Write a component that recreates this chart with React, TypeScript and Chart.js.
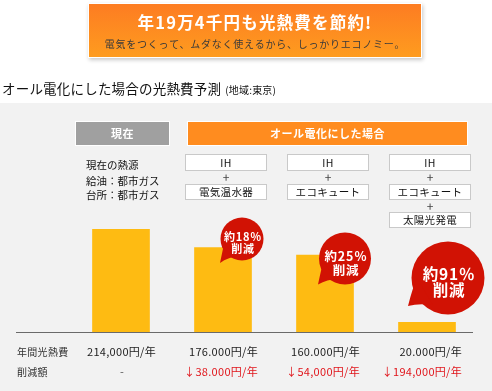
import React, { useEffect, useRef } from "react";
import { Chart, registerables } from "chart.js";

Chart.register(...registerables);

// ---- data ----
const categories = ["現在", "IH+電気温水器", "IH+エコキュート", "IH+エコキュート+太陽光発電"];
const annualCost = [214000, 176000, 160000, 20000];
const costLabels = ["214,000円/年", "176.000円/年", "160.000円/年", "20.000円/年"];
const savingLabels = ["-", "↓38.000円/年", "↓54,000円/年", "↓194,000円/年"];
const reductionRates = ["", "約18％", "約25％", "約91％"];
const equipment = [[], ["IH", "電気温水器"], ["IH", "エコキュート"], ["IH", "エコキュート", "太陽光発電"]];
const currentSource = ["現在の熱源", "給油：都市ガス", "台所：都市ガス"];
const bannerTitle = "年19万4千円も光熱費を節約!";
const bannerSub = "電気をつくって、ムダなく使えるから、しっかりエコノミー。";
const chartTitle = "オール電化にした場合の光熱費予測";
const chartRegion = "(地域:東京)";
const headerNow = "現在";
const headerAllElectric = "オール電化にした場合";
const rowLabels = ["年間光熱費", "削減額"];

const FONT = "'Noto Sans CJK JP', 'Noto Sans', sans-serif";

// bubble styles (radius, dx from bar center, center y, font size, line offsets)
const bubbleStyle = [
  null,
  { r: 21.5, dx: 19, cy: 239, fs: 11, l1: -2, l2: 10, tipDx: -22, tipDy: 24 },
  { r: 26, dx: 20, cy: 258.5, fs: 12.5, l1: -2, l2: 12, tipDx: -27, tipDy: 26 },
  { r: 36.5, dx: 21, cy: 278, fs: 15.5, l1: -4, l2: 12, tipDx: -40, tipDy: 28 },
];

const decorPlugin = {
  id: "decor",
  beforeDraw(chart: any) {
    const ctx: CanvasRenderingContext2D = chart.ctx;
    const W = chart.width;
    const H = chart.height;
    ctx.save();
    ctx.fillStyle = "#ffffff";
    ctx.fillRect(0, 0, W, H);
    ctx.fillStyle = "#f2f2f2";
    ctx.fillRect(0, 103, W, H - 103);

    // banner
    ctx.save();
    ctx.shadowColor = "rgba(0,0,0,0.22)";
    ctx.shadowBlur = 4;
    ctx.shadowOffsetX = 1;
    ctx.shadowOffsetY = 2;
    ctx.fillStyle = "#ffffff";
    ctx.fillRect(88, 3, 334, 55);
    ctx.restore();
    const g = ctx.createLinearGradient(0, 4, 0, 57);
    g.addColorStop(0, "#fd7c22");
    g.addColorStop(1, "#fe9c1f");
    ctx.fillStyle = g;
    ctx.fillRect(89, 4, 332, 53);

    ctx.textAlign = "center";
    ctx.textBaseline = "middle";
    ctx.fillStyle = "#ffffff";
    ctx.font = `bold 16.5px ${FONT}`;
    (ctx as any).letterSpacing = "1.2px";
    ctx.fillText(bannerTitle, 255, 23);
    ctx.fillStyle = "#3a3a3a";
    ctx.font = `10px ${FONT}`;
    (ctx as any).letterSpacing = "0.75px";
    ctx.fillText(bannerSub, 255, 44);
    (ctx as any).letterSpacing = "0px";

    // title
    ctx.textAlign = "left";
    ctx.fillStyle = "#111111";
    ctx.font = `13.5px ${FONT}`;
    (ctx as any).letterSpacing = "0.2px";
    ctx.fillText(chartTitle, 2, 89);
    const tw = ctx.measureText(chartTitle).width;
    ctx.font = `10px ${FONT}`;
    ctx.fillText(chartRegion, 2 + tw + 4, 90);
    (ctx as any).letterSpacing = "0px";

    // header boxes
    ctx.fillStyle = "#ffffff";
    ctx.fillRect(75, 121, 95, 25);
    ctx.fillRect(187, 121, 281, 25);
    ctx.fillStyle = "#a0a0a0";
    ctx.fillRect(76, 122, 93, 23);
    ctx.fillStyle = "#ff8c1f";
    ctx.fillRect(188, 122, 279, 23);
    ctx.fillStyle = "#ffffff";
    ctx.textAlign = "center";
    ctx.font = `bold 11px ${FONT}`;
    (ctx as any).letterSpacing = "0.5px";
    ctx.fillText(headerNow, 122.5, 134);
    ctx.fillText(headerAllElectric, 327.5, 134);
    (ctx as any).letterSpacing = "0px";

    // current heat source
    ctx.textAlign = "left";
    ctx.fillStyle = "#111111";
    ctx.font = `10.5px ${FONT}`;
    const srcY = [165, 181, 195];
    currentSource.forEach((t, i) => ctx.fillText(t, 86, srcY[i]));
    ctx.restore();
  },
  afterDatasetsDraw(chart: any) {
    const ctx: CanvasRenderingContext2D = chart.ctx;
    const meta = chart.getDatasetMeta(0);
    const base = chart.scales.y.getPixelForValue(0);
    ctx.save();

    // axis line
    ctx.strokeStyle = "#6a6a6a";
    ctx.lineWidth = 1;
    ctx.beginPath();
    ctx.moveTo(16, Math.round(base) + 0.5);
    ctx.lineTo(473, Math.round(base) + 0.5);
    ctx.stroke();

    // equipment boxes
    const boxY = [154, 184, 212];
    const plusY = [177, 206];
    meta.data.forEach((bar: any, i: number) => {
      const items = equipment[i];
      const cx = bar.x + 3;
      items.forEach((t, j) => {
        const y = boxY[j];
        const h = j === 0 ? 17 : 16;
        ctx.fillStyle = "#ffffff";
        ctx.fillRect(cx - 41, y, 82, h);
        ctx.strokeStyle = "#c9c9c9";
        ctx.lineWidth = 1;
        ctx.strokeRect(cx - 41 + 0.5, y + 0.5, 81, h - 1);
        ctx.fillStyle = "#111111";
        ctx.textAlign = "center";
        ctx.textBaseline = "middle";
        ctx.font = `10.5px ${FONT}`;
        (ctx as any).letterSpacing = "0.3px";
        ctx.fillText(t, cx, y + h / 2 + 0.5);
        (ctx as any).letterSpacing = "0px";
        if (j < items.length - 1) {
          ctx.font = `12px ${FONT}`;
          ctx.fillStyle = "#444444";
          ctx.fillText("+", cx, plusY[j]);
        }
      });
    });

    // bubbles
    meta.data.forEach((bar: any, i: number) => {
      const s = bubbleStyle[i];
      if (!s) return;
      const cx = bar.x + s.dx;
      const cy = s.cy;
      const tipX = cx + s.tipDx;
      const tipY = cy + s.tipDy;
      const ang = Math.atan2(tipY - cy, tipX - cx);
      ctx.fillStyle = "#d11204";
      ctx.beginPath();
      ctx.arc(cx, cy, s.r, 0, Math.PI * 2);
      ctx.fill();
      ctx.beginPath();
      ctx.moveTo(cx + Math.cos(ang - 0.45) * s.r * 0.85, cy + Math.sin(ang - 0.45) * s.r * 0.85);
      ctx.quadraticCurveTo(
        cx + Math.cos(ang - 0.1) * s.r * 1.05,
        cy + Math.sin(ang - 0.1) * s.r * 1.05,
        tipX,
        tipY
      );
      ctx.quadraticCurveTo(
        cx + Math.cos(ang + 0.35) * s.r * 1.0,
        cy + Math.sin(ang + 0.35) * s.r * 1.0,
        cx + Math.cos(ang + 0.6) * s.r * 0.85,
        cy + Math.sin(ang + 0.6) * s.r * 0.85
      );
      ctx.closePath();
      ctx.fill();
      ctx.fillStyle = "#ffffff";
      ctx.textAlign = "center";
      ctx.textBaseline = "middle";
      ctx.font = `bold ${s.fs}px ${FONT}`;
      (ctx as any).letterSpacing = "0.8px";
      ctx.fillText(reductionRates[i], cx + 1, cy + s.l1);
      ctx.fillText("削減", cx + 1, cy + s.l2);
      (ctx as any).letterSpacing = "0px";
    });

    // bottom rows
    ctx.textBaseline = "middle";
    ctx.textAlign = "left";
    ctx.fillStyle = "#333333";
    ctx.font = `10px ${FONT}`;
    (ctx as any).letterSpacing = "0.3px";
    ctx.fillText(rowLabels[0], 17, 352);
    ctx.fillText(rowLabels[1], 17, 372);
    ctx.font = `11px ${FONT}`;
    meta.data.forEach((bar: any, i: number) => {
      const rx = bar.x + 35;
      ctx.textAlign = "right";
      ctx.fillStyle = "#222222";
      ctx.fillText(costLabels[i], rx, 352);
      if (savingLabels[i] === "-") {
        ctx.textAlign = "center";
        ctx.fillStyle = "#555555";
        ctx.fillText("-", 122, 372);
      } else {
        ctx.fillStyle = "#e0151b";
        ctx.fillText(savingLabels[i], rx, 372);
      }
    });
    (ctx as any).letterSpacing = "0px";
    ctx.restore();
  },
};

export default function App() {
  const ref = useRef<HTMLCanvasElement | null>(null);
  useEffect(() => {
    if (!ref.current) return;
    const chart = new Chart(ref.current, {
      type: "bar",
      data: {
        labels: categories,
        datasets: [
          {
            data: annualCost,
            backgroundColor: "#febb12",
            borderWidth: 0,
            barThickness: 57,
          },
        ],
      },
      options: {
        responsive: false,
        animation: false,
        devicePixelRatio: 1,
        layout: { padding: { left: 70, right: 14, top: 212, bottom: 59 } },
        scales: {
          x: { display: false },
          y: { display: false, min: 0, max: 250000 },
        },
        plugins: { legend: { display: false }, tooltip: { enabled: false } },
      },
      plugins: [decorPlugin],
    } as any);
    return () => chart.destroy();
  }, []);
  return (
    <div style={{ position: "absolute", left: 0, top: 0, width: 492, height: 391 }}>
      <canvas ref={ref} width={492} height={391} style={{ display: "block" }} />
    </div>
  );
}
